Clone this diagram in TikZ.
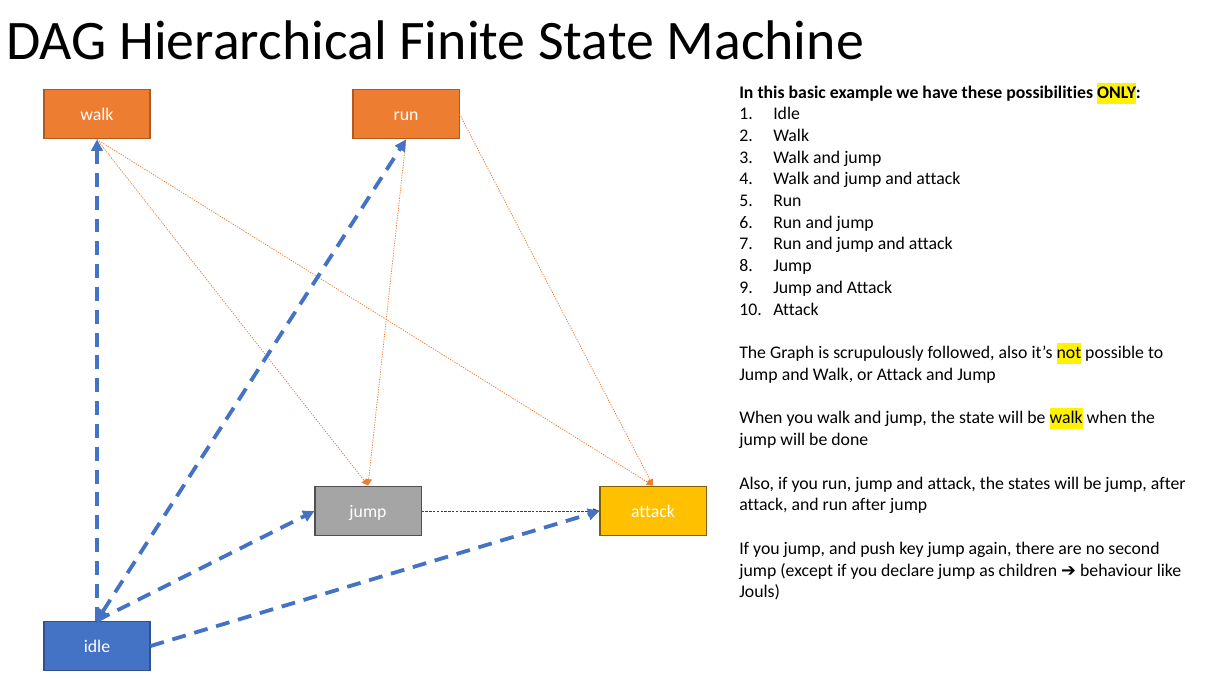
\documentclass[tikz,border=0pt]{standalone}
\usepackage{fontspec}
\setmainfont[Ligatures=NoCommon]{Carlito}
\newfontfamily\symfont{DejaVu Sans}
\usetikzlibrary{arrows.meta}
\definecolor{ppOrange}{HTML}{ED7D31}
\definecolor{ppOrangeLine}{HTML}{AE5A21}
\definecolor{ppBlue}{HTML}{4472C4}
\definecolor{ppBlueLine}{HTML}{2F528F}
\definecolor{ppGray}{HTML}{A5A5A5}
\definecolor{ppGrayLine}{HTML}{505050}
\definecolor{ppGold}{HTML}{FFC000}
\definecolor{ppGoldLine}{HTML}{7F6000}
\newcommand\hilite[1]{{\fboxsep=0pt\colorbox{yellow}{\strut #1}}}
\tikzstyle{state}=[draw,line width=0.8pt,inner sep=0pt,minimum width=83.6pt,minimum height=39.4pt,text height=10pt,text depth=0.5pt,text=white,font=\fontsize{14}{17}\selectfont]
\tikzstyle{move}=[->,ppBlue,line width=3pt,dash pattern=on 11pt off 7pt]
\tikzstyle{chain}=[-{Triangle[length=5pt,width=5pt]},ppOrange,line width=0.6pt,dash pattern=on 1pt off 1pt]
\tikzstyle{link}=[-{Triangle[length=5pt,width=4pt]},black!75,line width=0.5pt,dash pattern=on 2pt off 1pt]
\tikzstyle{txt}=[anchor=base west,inner sep=0pt,font=\fontsize{14}{17}\selectfont]

\begin{document}
\begin{tikzpicture}[x=0.7886pt,y=-0.7886pt,>={Triangle[length=9pt,width=9pt]}]
                  \useasboundingbox (0,0) rectangle (1217,678);

                  \node (title) at (6,59) [anchor=base west,inner sep=0pt,font=\fontsize{44}{53}\selectfont] {DAG Hierarchical Finite State Machine};

                  \node (walk) at (97,114) [state,fill=ppOrange,draw=ppOrangeLine] {walk};
                  \node (run) at (406,114) [state,fill=ppOrange,draw=ppOrangeLine] {run};
                  \node (jump) at (368,511) [state,fill=ppGray,draw=ppGrayLine] {jump};
                  \node (attack) at (653,511) [state,fill=ppGold,draw=ppGoldLine] {attack};
                  \node (idle) at (97,646) [state,fill=ppBlue,draw=ppBlueLine] {idle};

                  \draw [chain] (walk.south) -- (jump.north);
                  \draw [chain] (walk.south) -- (attack.north);
                  \draw [chain] (run.south) -- (jump.north);
                  \draw [chain] (run.east) -- (attack.north);
                  \draw [link] (jump.east) -- (attack.west);

                  \draw [move] (idle.north) -- (walk.south);
                  \draw [move,<->] (idle.north) -- (run.south);
                  \draw [move] (idle.north) -- (jump.west);
                  \draw [move] (idle.east) -- (attack.west);

                  % text on the right
                  \node (head) at (739,98) [txt] {\bfseries In this basic example we have these possibilities \hilite{ONLY}:};
                  \foreach \n/\s in {1/Idle,2/Walk,3/Walk and jump,4/Walk and jump and attack,5/Run,6/Run and jump,7/Run and jump and attack,8/Jump,9/Jump and Attack,10/Attack}
                  {
                    \node (num\n) at (739,{98+21.7*\n}) [txt] {\n.};
                    \node (item\n) at (773,{98+21.7*\n}) [txt] {\s};
                  }

                  \node (p1a) at (739,358) [txt] {The Graph is scrupulously followed, also it’s \hilite{not} possible to};
                  \node (p1b) at (739,380) [txt] {Jump and Walk, or Attack and Jump};
                  \node (p2a) at (739,423) [txt] {When you walk and jump, the state will be \hilite{walk} when the};
                  \node (p2b) at (739,445) [txt] {jump will be done};
                  \node (p3a) at (739,489) [txt] {Also, if you run, jump and attack, the states will be jump, after};
                  \node (p3b) at (739,510) [txt] {attack, and run after jump};
                  \node (p4a) at (739,554) [txt] {If you jump, and push key jump again, there are no second};
                  \node (p4b) at (739,576) [txt] {jump (except if you declare jump as children {\symfont\bfseries ➔} behaviour like};
                  \node (p4c) at (739,597) [txt] {Jouls)};
              \end{tikzpicture}
\end{document}
